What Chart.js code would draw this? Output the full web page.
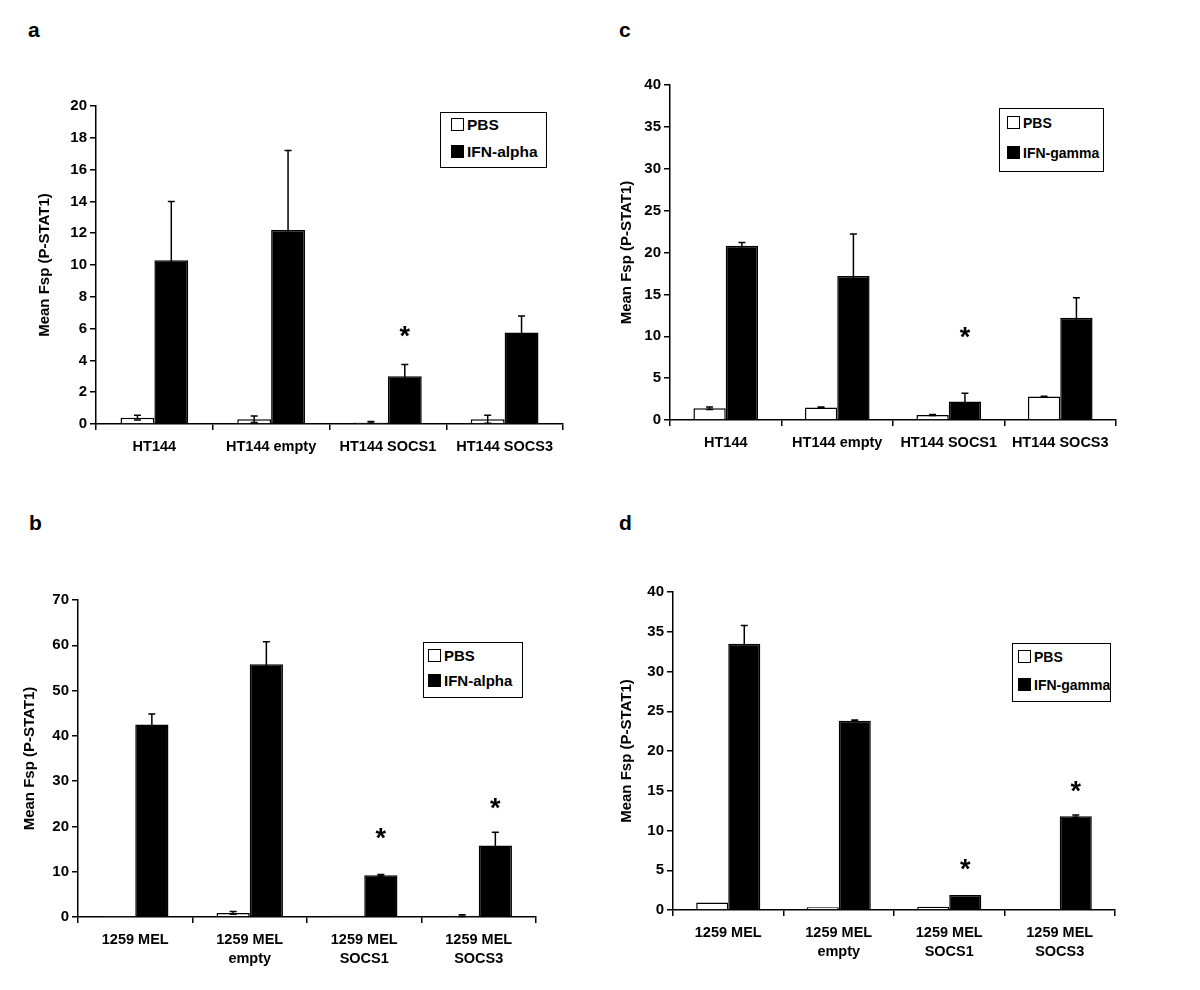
<!DOCTYPE html>
<html>
<head>
<meta charset="utf-8">
<script src="https://cdn.jsdelivr.net/npm/chart.js@4"></script>
<style>
  body { margin: 0; background: #fff; width: 1200px; height: 990px; position: relative; font-family: "Liberation Sans", Arial, sans-serif; overflow: hidden; }
  .panel { position: absolute; }
  .letter { position: absolute; font-weight: bold; font-size: 21px; color: #000; }
  .legend { position: absolute; border: 1.5px solid #000; background: #fff; font-weight: bold; box-sizing: border-box; }
  .legend div { position: absolute; height: 20px; line-height: 20px; white-space: nowrap; }
  .legend span { display: inline-block; width: 11px; height: 11px; border: 1px solid #000; margin-right: 3px; vertical-align: -1px; }
</style>
</head>
<body>
<div class="letter" style="left:28px;top:18px">a</div>
<div class="letter" style="left:619px;top:18px">c</div>
<div class="letter" style="left:29px;top:511px">b</div>
<div class="letter" style="left:619px;top:511px">d</div>

<div class="panel" id="pa"><canvas id="chartA"></canvas></div>
<div class="panel" id="pb"><canvas id="chartB"></canvas></div>
<div class="panel" id="pc"><canvas id="chartC"></canvas></div>
<div class="panel" id="pd"><canvas id="chartD"></canvas></div>

<div class="legend" style="left:440px;top:112px;width:107px;height:56px;font-size:15.5px">
  <div style="left:10px;top:2px"><span style="background:#fff"></span>PBS</div>
  <div style="left:10px;top:29px"><span style="background:#000"></span>IFN-alpha</div></div>
<div class="legend" style="left:999px;top:108px;width:105px;height:64px;font-size:14px">
  <div style="left:7px;top:4px"><span style="background:#fff"></span>PBS</div>
  <div style="left:7px;top:34px"><span style="background:#000"></span>IFN-gamma</div></div>
<div class="legend" style="left:423px;top:642px;width:100px;height:56px;font-size:15px">
  <div style="left:4px;top:3px"><span style="background:#fff"></span>PBS</div>
  <div style="left:4px;top:28px"><span style="background:#000"></span>IFN-alpha</div></div>
<div class="legend" style="left:1012px;top:643px;width:99px;height:59px;font-size:14px">
  <div style="left:5px;top:3px"><span style="background:#fff"></span>PBS</div>
  <div style="left:5px;top:31px"><span style="background:#000"></span>IFN-gamma</div></div>

<script>
// panel a: HT144, IFN-alpha
const catsA = ['HT144', 'HT144 empty', 'HT144 SOCS1', 'HT144 SOCS3'];
const pbsA = [0.4, 0.3, 0.1, 0.3];
const pbsErrA = [0.15, 0.2, 0.05, 0.25];
const ifnA = [10.3, 12.2, 3.0, 5.75];
const ifnErrA = [3.7, 5.0, 0.75, 1.05];
const starA = [null, null, 5.8, null];
const ticksA = [0, 2, 4, 6, 8, 10, 12, 14, 16, 18, 20];

// panel c: HT144, IFN-gamma
const catsC = ['HT144', 'HT144 empty', 'HT144 SOCS1', 'HT144 SOCS3'];
const pbsC = [1.4, 1.5, 0.6, 2.8];
const pbsErrC = [0.15, 0.05, 0.05, 0.05];
const ifnC = [20.8, 17.2, 2.2, 12.2];
const ifnErrC = [0.4, 5.0, 1.0, 2.4];
const starC = [null, null, 10.5, null];
const ticksC = [0, 5, 10, 15, 20, 25, 30, 35, 40];

// panel b: 1259 MEL, IFN-alpha
const catsB = [['1259 MEL'], ['1259 MEL', 'empty'], ['1259 MEL', 'SOCS1'], ['1259 MEL', 'SOCS3']];
const pbsB = [0.1, 0.9, 0.3, 0.3];
const pbsErrB = [0, 0.3, 0, 0.2];
const ifnB = [42.5, 55.8, 9.2, 15.8];
const ifnErrB = [2.3, 5.0, 0.2, 2.9];
const starB = [null, null, 18.5, 25];
const ticksB = [0, 10, 20, 30, 40, 50, 60, 70];

// panel d: 1259 MEL, IFN-gamma
const catsD = [['1259 MEL'], ['1259 MEL', 'empty'], ['1259 MEL', 'SOCS1'], ['1259 MEL', 'SOCS3']];
const pbsD = [0.95, 0.35, 0.4, 0];
const pbsErrD = [0, 0, 0, 0];
const ifnD = [33.5, 23.8, 1.9, 11.8];
const ifnErrD = [2.3, 0.1, 0, 0.15];
const starD = [null, null, 5.7, 15.5];
const ticksD = [0, 5, 10, 15, 20, 25, 30, 35, 40];

const FONT = '"Liberation Sans", Arial, sans-serif';

const errorBars = {
  id: 'errorBars',
  afterDatasetsDraw(chart) {
    const ctx = chart.ctx;
    const y = chart.scales.y;
    ctx.save();
    ctx.strokeStyle = '#000';
    ctx.lineWidth = 1.5;
    chart.data.datasets.forEach((ds, di) => {
      const meta = chart.getDatasetMeta(di);
      meta.data.forEach((bar, i) => {
        const err = ds.errors[i];
        if (!err) return;
        const v = ds.data[i];
        const yHi = y.getPixelForValue(v + err);
        const yLo = y.getPixelForValue(Math.max(0, v - err));
        ctx.beginPath();
        ctx.moveTo(bar.x, yLo);
        ctx.lineTo(bar.x, yHi);
        ctx.moveTo(bar.x - 3.5, yHi);
        ctx.lineTo(bar.x + 3.5, yHi);
        ctx.moveTo(bar.x - 3.5, yLo);
        ctx.lineTo(bar.x + 3.5, yLo);
        ctx.stroke();
      });
    });
    // significance stars over the treated bars
    const stars = chart.options.plugins.errorBars.stars;
    const meta = chart.getDatasetMeta(1);
    ctx.fillStyle = '#000';
    ctx.font = 'bold 27px ' + FONT;
    ctx.textAlign = 'center';
    ctx.textBaseline = 'middle';
    stars.forEach((s, i) => {
      if (s == null) return;
      ctx.fillText('*', meta.data[i].x, y.getPixelForValue(s) + 6);
    });
    ctx.restore();
  }
};

function makeChart(id, box, cats, pbs, pbsErr, ifn, ifnErr, stars, ticks, yWidth, xHeight) {
  const wrap = document.getElementById(id);
  wrap.style.left = box.left + 'px';
  wrap.style.top = box.top + 'px';
  wrap.style.width = box.width + 'px';
  wrap.style.height = box.height + 'px';
  const canvas = wrap.querySelector('canvas');
  return new Chart(canvas.getContext('2d'), {
    type: 'bar',
    data: {
      labels: cats,
      datasets: [
        { label: 'PBS', data: pbs, errors: pbsErr, backgroundColor: '#fff', borderColor: '#000', borderWidth: 1.5 },
        { label: 'IFN', data: ifn, errors: ifnErr, backgroundColor: '#000', borderColor: '#000', borderWidth: 1.5 }
      ]
    },
    options: {
      responsive: true,
      maintainAspectRatio: false,
      animation: false,
      layout: { padding: { top: 12, right: 12, left: 0, bottom: 0 } },
      plugins: {
        legend: { display: false },
        tooltip: { enabled: false },
        errorBars: { stars: stars }
      },
      datasets: { bar: { categoryPercentage: 0.58, barPercentage: 1.0 } },
      scales: {
        x: {
          grid: { display: true, offset: true, drawOnChartArea: false, drawTicks: true, tickLength: 6, color: '#000', lineWidth: 1.5 },
          border: { display: true, color: '#000', width: 1.5 },
          ticks: { color: '#000', font: { family: FONT, size: 14.5, weight: 'bold', lineHeight: 1.3 }, padding: 8, maxRotation: 0, autoSkip: false },
          afterFit(axis) { axis.height = xHeight; }
        },
        y: {
          min: ticks[0],
          max: ticks[ticks.length - 1],
          afterBuildTicks(axis) { axis.ticks = ticks.map(v => ({ value: v })); },
          grid: { display: true, drawOnChartArea: false, drawTicks: true, tickLength: 6, color: '#000', lineWidth: 1.5 },
          border: { display: true, color: '#000', width: 1.5 },
          ticks: { color: '#000', font: { family: FONT, size: 15, weight: 'bold' }, padding: 3 },
          title: { display: true, text: 'Mean Fsp (P-STAT1)', color: '#000', font: { family: FONT, size: 15, weight: 'bold' }, padding: { top: 3, bottom: 4 } },
          afterFit(axis) { axis.width = yWidth; }
        }
      }
    },
    plugins: [errorBars]
  });
}

makeChart('pa', { left: 33, top: 94, width: 542, height: 370 }, catsA, pbsA, pbsErrA, ifnA, ifnErrA, starA, ticksA, 63, 40);
makeChart('pc', { left: 615, top: 73, width: 513, height: 387 }, catsC, pbsC, pbsErrC, ifnC, ifnErrC, starC, ticksC, 55, 40);
makeChart('pb', { left: 18, top: 588, width: 530, height: 389 }, catsB, pbsB, pbsErrB, ifnB, ifnErrB, starB, ticksB, 60, 60);
makeChart('pd', { left: 615, top: 580, width: 512, height: 390 }, catsD, pbsD, pbsErrD, ifnD, ifnErrD, starD, ticksD, 58, 60);
</script>
</body>
</html>
